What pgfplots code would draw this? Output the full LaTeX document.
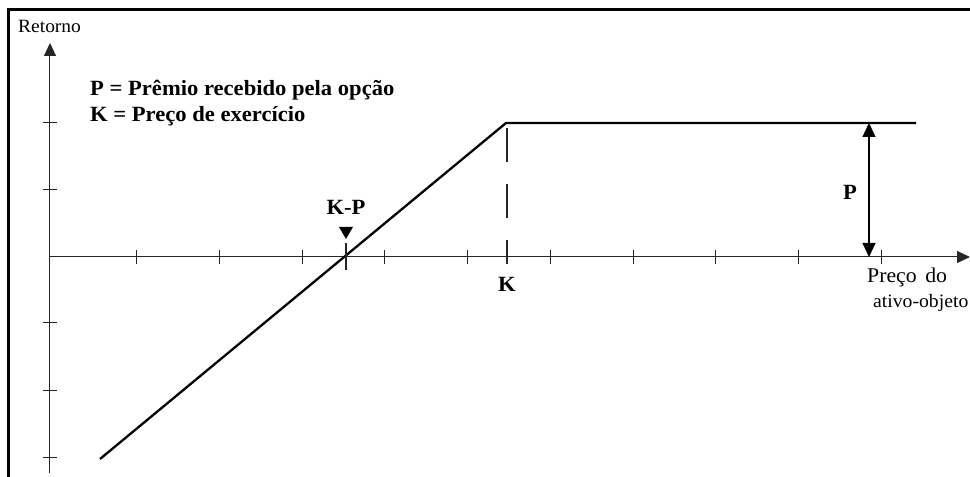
\documentclass[border=0pt]{standalone}
\usepackage{fontspec}
\setmainfont{Liberation Serif}[FakeStretch=1.04]
\usepackage{pgfplots}
\pgfplotsset{compat=1.18}
\usetikzlibrary{arrows.meta}

\begin{document}
\begin{tikzpicture}[x=1bp,y=1bp]
\useasboundingbox (-50,-4) rectangle (920,473);
\begin{axis}[
  at={(0,0)}, anchor=south west,
  width=920bp, height=430bp, scale only axis,
  xmin=0, xmax=920, ymin=-216, ymax=214,
  axis lines=middle,
  axis line style={line width=1bp, black!85},
  x axis line style={-{Triangle[width=12bp,length=13bp]}},
  y axis line style={-{Triangle[width=12bp,length=13bp]}},
  xtick={86,169,252,334,417,500,583,665,748,831},
  ytick={-201,-134,-66,67,134},
  xticklabels={}, yticklabels={},
  tick align=center,
  major tick length=14bp,
  tick style={black!85, line width=1bp},
  clip=false,
]
% payoff of a short put
\addplot[line width=2.3bp, black, line join=miter] coordinates {(50,-202) (456,134) (866,134)};

% dashed strike line
\draw[line width=1.1bp, black!85, dash pattern=on 34bp off 22bp] (axis cs:457,129) -- (axis cs:457,-7);
% K-P tick
\draw[line width=1.1bp, black!85] (axis cs:296,14) -- (axis cs:296,-13);
% premium arrow
\draw[{Triangle[width=13bp,length=14bp]}-{Triangle[width=13bp,length=14bp]}, line width=1.3bp]
  (axis cs:819,134) -- (axis cs:819,0);
% marker triangle
\fill (axis cs:289,30) -- (axis cs:303,30) -- (axis cs:296,18) -- cycle;

% labels
\node[anchor=base west, inner sep=0pt, font=\fontsize{18.8}{20}\selectfont] at (axis cs:-32,224) {Retorno};
\node[anchor=base west, inner sep=0pt, font=\fontsize{21.8}{24}\selectfont\bfseries] at (axis cs:40,161) {P = Prêmio recebido pela opção};
\node[anchor=base west, inner sep=0pt, font=\fontsize{21.8}{24}\selectfont\bfseries] at (axis cs:40,135) {K = Preço de exercício};
\node[anchor=base, inner sep=0pt, font=\fontsize{21.8}{24}\selectfont\bfseries] at (axis cs:296,42) {K-P};
\node[anchor=base, inner sep=0pt, font=\fontsize{21.8}{24}\selectfont\bfseries] at (axis cs:457,-35) {K};
\node[anchor=base, inner sep=0pt, font=\fontsize{21.8}{24}\selectfont\bfseries] at (axis cs:800,57) {P};
\node[anchor=base west, inner sep=0pt, font=\fontsize{21}{22}\selectfont] at (axis cs:817,-26) {Preço\hspace{0.15em} do};
\node[anchor=base west, inner sep=0pt, font=\fontsize{19}{22}\selectfont] at (axis cs:823,-51) {ativo-objeto};

% frame
\draw[line width=2.5bp, line cap=rect] (axis cs:-41.5,-225) -- (axis cs:-41.5,247.5) -- (axis cs:925,247.5);
\end{axis}
\end{tikzpicture}
\end{document}
